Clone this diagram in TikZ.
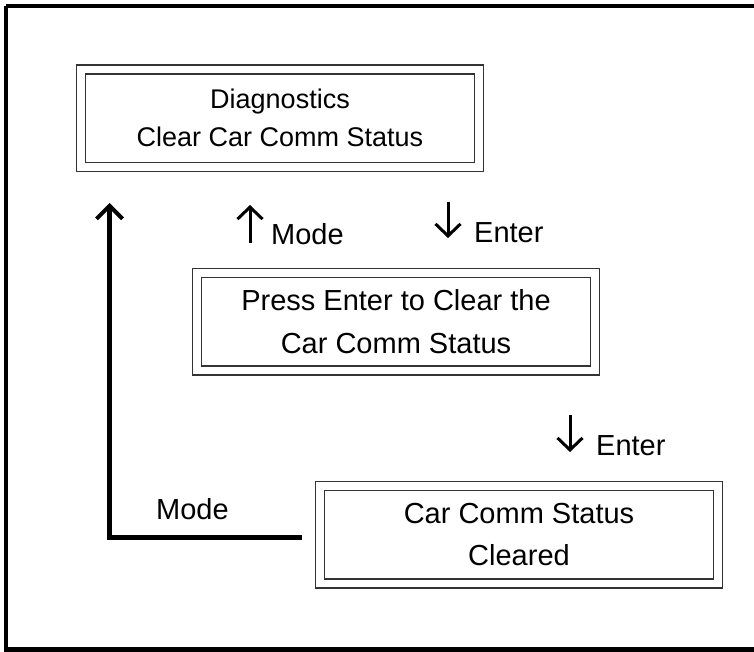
\documentclass[tikz,border=0pt]{standalone}
\usepackage{fontspec}
\setmainfont{Liberation Sans}
\usetikzlibrary{arrows.meta,calc}
\begin{document}
\begin{tikzpicture}[x=1pt,y=-1pt,
  screen/.style={draw=black!80, line width=1.5pt, double, double distance=7.5pt,
    minimum width=398pt, minimum height=97.5pt, inner sep=0pt, outer sep=0pt,
    align=center},
  big/.style={line width=4.5pt, -{Straight Barb[length=13pt,width=26pt,line width=4pt]}},
  keyarrow/.style={line width=3pt, -{Straight Barb[length=12pt,width=25pt,line width=3pt]}},
  keylabel/.style={anchor=base west, inner sep=0pt, font=\fontsize{29}{34}\selectfont}]
\useasboundingbox (0,0) rectangle (754,652);
\draw[line width=4.5pt] (6,6) -- (760,6) (6,6) -- (6,649.5) -- (760,649.5);
\node[screen, font=\fontsize{27}{38}\selectfont] (b1) at (280,118.25) {Diagnostics\\Clear Car Comm Status};
\node[screen, font=\fontsize{29}{43}\selectfont] (b2) at (396,321.75) {Press Enter to Clear the\\ Car Comm Status};
\node[screen, font=\fontsize{29}{42}\selectfont] (b3) at (519,534.75) {Car Comm Status\\Cleared};
% key labels
\node[keylabel] (lmode) at (271,244) {Mode};
\node[keylabel] (lent1) at (474,243) {Enter};
\node[keylabel] (lent2) at (596,455) {Enter};
\node[keylabel] (lmode2) at (156,519) {Mode};
% key arrows
\coordinate (u1) at ($(lmode.base west)+(-21,-1)$);
\draw[keyarrow] (u1) -- ++(0,-38);
\coordinate (d1) at ($(lent1.base west)+(-26,-41)$);
\draw[keyarrow] (d1) -- ++(0,36);
\coordinate (d2) at ($(lent2.base west)+(-26,-40)$);
\draw[keyarrow] (d2) -- ++(0,37);
% return connector
\coordinate (s) at ($(b3.west)+(-18,2.75)$);
\coordinate (t) at (109.5,203);
\draw[big] (s) -| (t);
\end{tikzpicture}
\end{document}
